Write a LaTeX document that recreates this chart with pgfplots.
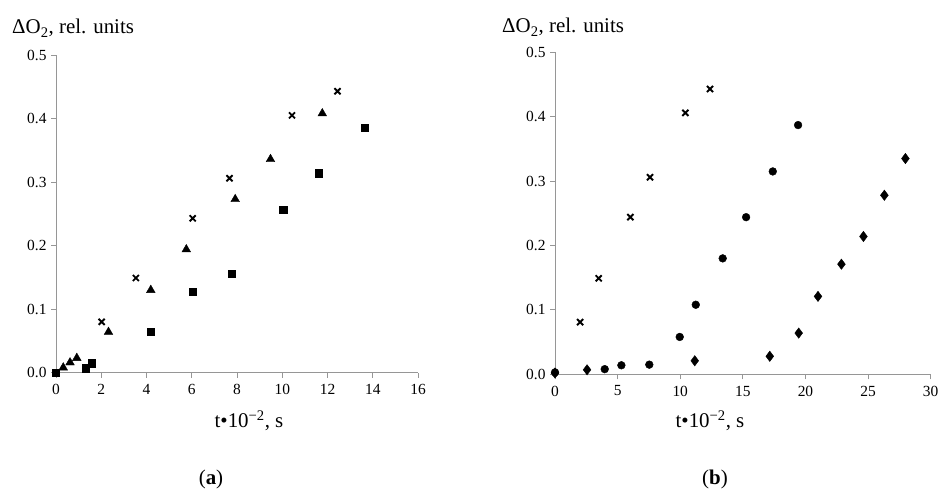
\documentclass[border=0pt]{standalone}
\usepackage{fontspec}
\setmainfont{Liberation Serif}
\usepackage{pgfplots}
\pgfplotsset{compat=1.18}
\definecolor{axgray}{RGB}{150,150,150}
\pgfplotsset{
  mychart/.style={
    scale only axis, anchor=south west, clip=false,
    axis x line*=bottom, axis y line*=left,
    axis line style={axgray, line width=0.9pt},
    tick style={axgray, line width=0.9pt},
    tick align=outside, major tick length=5bp,
    ymin=0, ymax=0.5,
    ytick={0,0.1,0.2,0.3,0.4,0.5},
    yticklabel style={/pgf/number format/fixed, /pgf/number format/fixed zerofill, /pgf/number format/precision=1},
    /pgf/number format/assume math mode=true,
    ticklabel style={font=\fontsize{15.5}{15.5}\selectfont},
    xticklabel style={yshift=-3bp},
    yticklabel style={xshift=-1bp},
  },
  pX/.style={only marks, mark=x, mark size=4.3bp, mark options={line width=1.9pt, black}},
  pT/.style={only marks, mark=triangle*, mark size=5bp, mark options={black}},
  pS/.style={only marks, mark=square*, mark size=3.6bp, mark options={black}},
  pC/.style={only marks, mark=*, mark size=3.9bp, mark options={black}},
  pD/.style={only marks, mark=diamond*, mark size=5.2bp, mark options={black}},
}
\begin{document}
\begin{tikzpicture}
\path (0,0) rectangle (943bp,491bp);
% (a)
\begin{axis}[mychart, at={(56bp,118.3bp)}, width=362bp, height=317.7bp,
  xmin=0, xmax=16, xtick={0,2,4,6,8,10,12,14,16}]
\addplot[pS] coordinates {(0,0) (1.33,0.007) (1.58,0.015) (4.19,0.064) (6.04,0.127) (7.75,0.156) (10.04,0.256) (11.62,0.314) (13.63,0.385)};
\addplot[pT] coordinates {(0.32,0.008) (0.62,0.016) (0.92,0.023) (2.32,0.064) (4.19,0.130) (5.76,0.194) (7.92,0.273) (9.48,0.336) (11.77,0.408)};
\addplot[pX] coordinates {(2.02,0.080) (3.53,0.149) (6.04,0.243) (7.67,0.306) (10.43,0.405) (12.44,0.443)};
\end{axis}
% (b)
\begin{axis}[mychart, at={(555bp,116.7bp)}, width=375.7bp, height=322bp,
  xmin=0, xmax=30, xtick={0,5,10,15,20,25,30}]
\addplot[pD] coordinates {(0,0.002) (2.56,0.007) (11.16,0.021) (17.15,0.028) (19.46,0.064) (21.0,0.121) (22.87,0.171) (24.63,0.214) (26.3,0.278) (27.98,0.335)};
\addplot[pC] coordinates {(0,0.003) (3.97,0.008) (5.30,0.014) (7.53,0.015) (9.96,0.058) (11.24,0.108) (13.39,0.180) (15.26,0.244) (17.39,0.315) (19.41,0.387)};
\addplot[pX] coordinates {(2.0,0.081) (3.49,0.149) (6.02,0.244) (7.59,0.306) (10.41,0.406) (12.38,0.443)};
\end{axis}
% labels
\node[anchor=base west, inner sep=0pt, font=\fontsize{21}{21}\selectfont] at (12bp,457bp) {ΔO\textsubscript{2}, rel. units};
\node[anchor=base west, inner sep=0pt, font=\fontsize{21}{21}\selectfont] at (502bp,458bp) {ΔO\textsubscript{2}, rel. units};
\node[anchor=base, inner sep=0pt, font=\fontsize{21}{21}\selectfont] at (249bp,63.3bp) {t•10\textsuperscript{−2}, s};
\node[anchor=base, inner sep=0pt, font=\fontsize{21}{21}\selectfont] at (710bp,63.3bp) {t•10\textsuperscript{−2}, s};
\node[anchor=base, inner sep=0pt, font=\fontsize{21}{21}\selectfont] at (211bp,7bp) {(\textbf{a})};
\node[anchor=base, inner sep=0pt, font=\fontsize{21}{21}\selectfont] at (715bp,7bp) {(\textbf{b})};
\end{tikzpicture}
\end{document}
